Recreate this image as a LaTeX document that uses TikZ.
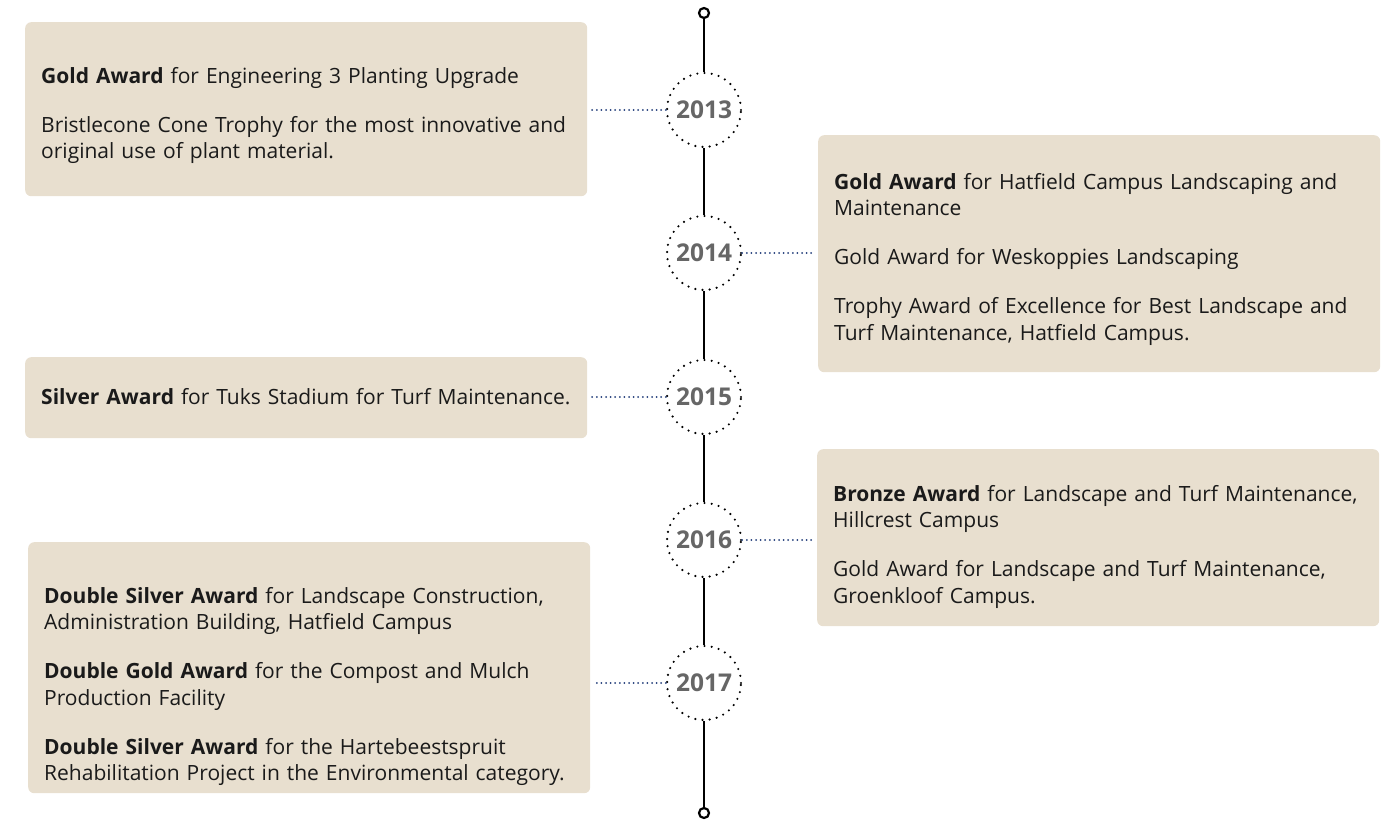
\documentclass[tikz,border=0pt]{standalone}
\usepackage{fontspec}
\setmainfont{Open Sans}
\usetikzlibrary{positioning,calc}

\definecolor{cardbg}{HTML}{E8DFCF}
\definecolor{yeargray}{HTML}{666666}
\definecolor{linkblue}{HTML}{1F3A78}
\definecolor{inktext}{HTML}{1A1A1A}

\tikzset{
  % #1 = top edge to first baseline, #2 = rest of the card below it
  card/.style 2 args={fill=cardbg, rounded corners=6pt, anchor=north west, text width=530pt,
    inner xsep=16pt, inner ysep=0pt, text height=#1, text depth=#2, align=left, text=inktext,
    font=\fontsize{21}{26.5}\selectfont},
  yearnode/.style={circle, draw, line width=2.4pt, line cap=round, dash pattern=on 0pt off 7.2pt,
    minimum size=74pt, inner sep=0pt, text=yeargray, font=\fontsize{24.5}{28}\selectfont\bfseries},
  link/.style={draw=linkblue, line width=2pt, line cap=round, dash pattern=on 0pt off 4.6pt},
  spine/.style={line width=2.6pt},
  endcap/.style={circle, draw, line width=2.2pt, minimum size=10pt, inner sep=0pt, fill=white},
}

\begin{document}
\begin{tikzpicture}[x=1pt, y=-1pt]
\useasboundingbox (0,0) rectangle (1397,821);

% timeline
\node[endcap] (top) at (704,13) {};
\node[endcap] (bottom) at (704,813) {};
\foreach \yr/\ypos in {2013/110,2014/253,2015/397,2016/540,2017/683}
  \node[yearnode] (y\yr) at (704,\ypos) {\yr};

\draw[spine] (top) -- (y2013);
\draw[spine] (y2013) -- (y2014);
\draw[spine] (y2014) -- (y2015);
\draw[spine] (y2015) -- (y2016);
\draw[spine] (y2016) -- (y2017);
\draw[spine] (y2017) -- (bottom);

% award cards
\node[card={61pt}{113pt}] (b2013) at (25,22)
  {\textbf{Gold Award} for Engineering 3 Planting Upgrade\\[22.5pt]
   Bristlecone Cone Trophy for the most innovative and\\
   original use of plant material.};
\node[card={54pt}{183pt}] (b2014) at (818,135)
  {\textbf{Gold Award} for Hatfield Campus Landscaping and\\
   Maintenance\\[22.5pt]
   Gold Award for Weskoppies Landscaping\\[22.5pt]
   Trophy Award of Excellence for Best Landscape and\\
   Turf Maintenance, Hatfield Campus.};
\node[card={47.5pt}{33.5pt}] (b2015) at (25,357)
  {\textbf{Silver Award} for Tuks Stadium for Turf Maintenance.};
\node[card={52pt}{125pt}] (b2016) at (817,449)
  {\textbf{Bronze Award} for Landscape and Turf Maintenance,\\
   Hillcrest Campus\\[22.5pt]
   Gold Award for Landscape and Turf Maintenance,\\
   Groenkloof Campus.};
\node[card={61pt}{190pt}] (b2017) at (28,542)
  {\textbf{Double Silver Award} for Landscape Construction,\\
   Administration Building, Hatfield Campus\\[22.5pt]
   \textbf{Double Gold Award} for the Compost and Mulch\\
   Production Facility\\[22.5pt]
   \textbf{Double Silver Award} for the Hartebeestspruit\\
   Rehabilitation Project in the Environmental category.};

% links
\draw[link] (y2013.west) -- ([xshift=3pt]y2013.west -| b2013.east);
\draw[link] (y2014.east) -- ([xshift=-3pt]y2014.east -| b2014.west);
\draw[link] (y2015.west) -- ([xshift=3pt]y2015.west -| b2015.east);
\draw[link] (y2016.east) -- ([xshift=-3pt]y2016.east -| b2016.west);
\draw[link] (y2017.west) -- ([xshift=3pt]y2017.west -| b2017.east);
\end{tikzpicture}
\end{document}
